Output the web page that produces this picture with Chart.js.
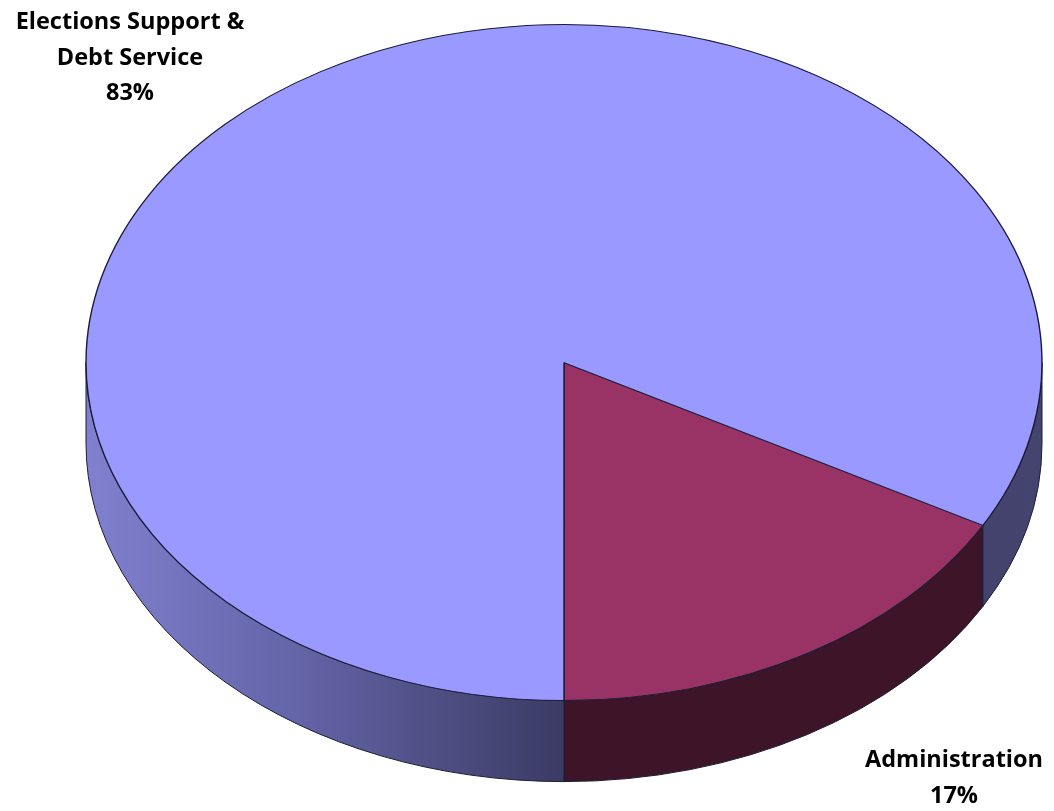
<!DOCTYPE html>
<html>
<head>
<meta charset="utf-8">
<script src="https://cdn.jsdelivr.net/npm/chart.js@4"></script>
<style>
  html, body { margin: 0; padding: 0; background: #ffffff; }
  canvas { display: block; }
</style>
</head>
<body>
<canvas id="chart" width="1054" height="811"></canvas>
<script>
// Budget share by category (percent)
const categories = [['Administration'], ['Elections Support &', 'Debt Service']];
const shares = [17, 83];
const topColors = ['#993366', '#9999ff'];
const edgeColor = '#1c1c38';

// Where the tilted disc sits on the page
const DISC = { cx: 564, cy: 362.6, rx: 478, ry: 338, depth: 81 };

// Label anchors: centre x and first baseline for each category
const LABEL_POS = [
  { x: 954, y: 767 },
  { x: 130, y: 29 }
];
const LINE_GAP = 35.5;

// Administration ends at the front (6 o'clock); rotation is measured from 12 o'clock
const total = shares.reduce((a, b) => a + b, 0);
const startDeg = 90 - 360 * shares[0] / total;

function wallFill(ctx, index) {
  if (index === 0) return '#3e1528';
  const g = ctx.createLinearGradient(DISC.cx - DISC.rx, 0, DISC.cx + DISC.rx, 0);
  g.addColorStop(0, '#8080cf');
  g.addColorStop(0.22, '#6464a8');
  g.addColorStop(0.5, '#3b3b64');
  g.addColorStop(1, '#44446f');
  return g;
}

// Draws the visible front wall of each slice, then tilts the slice tops into an ellipse
const tiltedPie = {
  id: 'tiltedPie',
  beforeDatasetsDraw(chart) {
    const ctx = chart.ctx;
    const meta = chart.getDatasetMeta(0);
    const arcs = meta.data;
    if (!arcs.length) return;
    const { x: ox, y: oy, outerRadius: R } = arcs[0];
    const TAU = Math.PI * 2;

    ctx.save();
    arcs.forEach((arc, i) => {
      const a0 = arc.startAngle, a1 = arc.endAngle;
      for (let k = -2; k <= 2; k++) {
        const s = Math.max(a0, k * TAU);
        const e = Math.min(a1, k * TAU + Math.PI);
        if (e - s <= 1e-6) continue;
        ctx.beginPath();
        ctx.ellipse(DISC.cx, DISC.cy, DISC.rx, DISC.ry, 0, s, e, false);
        ctx.ellipse(DISC.cx, DISC.cy + DISC.depth, DISC.rx, DISC.ry, 0, e, s, true);
        ctx.closePath();
        ctx.fillStyle = wallFill(ctx, i);
        ctx.fill();
        ctx.lineWidth = 1;
        ctx.strokeStyle = edgeColor;
        ctx.lineJoin = 'round';
        ctx.stroke();
      }
    });
    ctx.restore();

    ctx.save();
    ctx.translate(DISC.cx, DISC.cy);
    ctx.scale(DISC.rx / R, DISC.ry / R);
    ctx.translate(-ox, -oy);
  },
  afterDatasetsDraw(chart) {
    chart.ctx.restore();
  },
  afterDraw(chart) {
    const ctx = chart.ctx;
    ctx.save();
    ctx.fillStyle = '#000000';
    ctx.font = 'bold 23.5px "Open Sans", sans-serif';
    ctx.textAlign = 'center';
    ctx.textBaseline = 'alphabetic';
    chart.data.labels.forEach((lines, i) => {
      const pos = LABEL_POS[i];
      const all = lines.concat([shares[i] + '%']);
      all.forEach((t, j) => ctx.fillText(t, pos.x, pos.y + j * LINE_GAP));
    });
    ctx.restore();
  }
};

new Chart(document.getElementById('chart'), {
  type: 'pie',
  data: {
    labels: categories,
    datasets: [{
      data: shares,
      backgroundColor: topColors,
      borderColor: edgeColor,
      borderWidth: 1.2,
      clip: false
    }]
  },
  options: {
    responsive: false,
    devicePixelRatio: 1,
    animation: false,
    rotation: startDeg + 90,
    layout: { padding: 0 },
    plugins: {
      legend: { display: false },
      tooltip: { enabled: false }
    },
    events: []
  },
  plugins: [tiltedPie]
});
</script>
</body>
</html>
